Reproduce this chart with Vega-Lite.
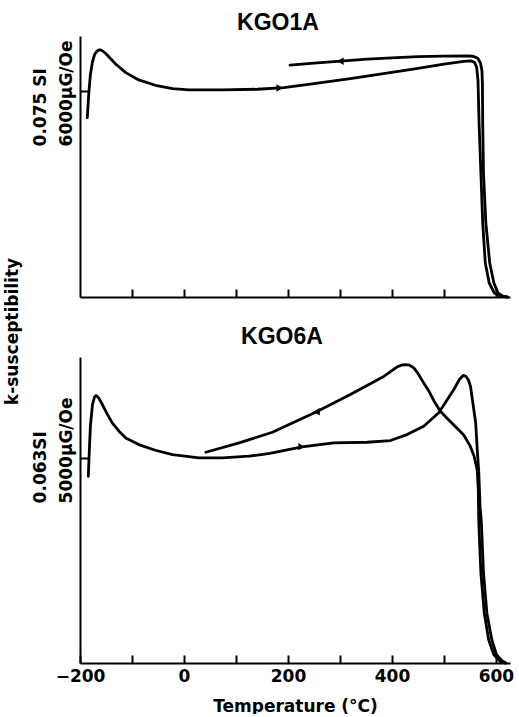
{
  "$schema": "https://vega.github.io/schema/vega-lite/v6.json",
  "background": "white",
  "padding": {"left": 3, "top": 12, "right": 0, "bottom": 0},
  "spacing": 60,
  "bounds": "flush",
  "datasets": {
    "kgo1a": [
      {"branch": "heating", "i": 0, "T": -186, "k": 5222},
      {"branch": "heating", "i": 1, "T": -183, "k": 5950},
      {"branch": "heating", "i": 2, "T": -180, "k": 6480},
      {"branch": "heating", "i": 3, "T": -176, "k": 6850},
      {"branch": "heating", "i": 4, "T": -172, "k": 7060},
      {"branch": "heating", "i": 5, "T": -167, "k": 7167},
      {"branch": "heating", "i": 6, "T": -162, "k": 7200},
      {"branch": "heating", "i": 7, "T": -157, "k": 7170},
      {"branch": "heating", "i": 8, "T": -151, "k": 7098},
      {"branch": "heating", "i": 9, "T": -141, "k": 6940},
      {"branch": "heating", "i": 10, "T": -131, "k": 6777},
      {"branch": "heating", "i": 11, "T": -112, "k": 6534},
      {"branch": "heating", "i": 12, "T": -87, "k": 6321},
      {"branch": "heating", "i": 13, "T": -55, "k": 6165},
      {"branch": "heating", "i": 14, "T": -22, "k": 6068},
      {"branch": "heating", "i": 15, "T": 10, "k": 6030},
      {"branch": "heating", "i": 16, "T": 74, "k": 6030},
      {"branch": "heating", "i": 17, "T": 141, "k": 6050},
      {"branch": "heating", "i": 18, "T": 192, "k": 6097},
      {"branch": "heating", "i": 19, "T": 250, "k": 6210},
      {"branch": "heating", "i": 20, "T": 320, "k": 6360},
      {"branch": "heating", "i": 21, "T": 390, "k": 6520},
      {"branch": "heating", "i": 22, "T": 450, "k": 6660},
      {"branch": "heating", "i": 23, "T": 500, "k": 6780},
      {"branch": "heating", "i": 24, "T": 538, "k": 6860},
      {"branch": "heating", "i": 25, "T": 552, "k": 6875},
      {"branch": "heating", "i": 26, "T": 559, "k": 6830},
      {"branch": "heating", "i": 27, "T": 563, "k": 6680},
      {"branch": "heating", "i": 28, "T": 565.5, "k": 6300},
      {"branch": "heating", "i": 29, "T": 567.5, "k": 5076},
      {"branch": "heating", "i": 30, "T": 571, "k": 3617},
      {"branch": "heating", "i": 31, "T": 574.5, "k": 2159},
      {"branch": "heating", "i": 32, "T": 579.5, "k": 992},
      {"branch": "heating", "i": 33, "T": 587, "k": 408},
      {"branch": "heating", "i": 34, "T": 597, "k": 117},
      {"branch": "heating", "i": 35, "T": 608, "k": 30},
      {"branch": "heating", "i": 36, "T": 622, "k": 0},
      {"branch": "cooling", "i": 0, "T": 622, "k": 0},
      {"branch": "cooling", "i": 1, "T": 612, "k": 30},
      {"branch": "cooling", "i": 2, "T": 604, "k": 117},
      {"branch": "cooling", "i": 3, "T": 596, "k": 408},
      {"branch": "cooling", "i": 4, "T": 588, "k": 992},
      {"branch": "cooling", "i": 5, "T": 580.5, "k": 2159},
      {"branch": "cooling", "i": 6, "T": 576, "k": 3617},
      {"branch": "cooling", "i": 7, "T": 574.5, "k": 5076},
      {"branch": "cooling", "i": 8, "T": 574, "k": 6200},
      {"branch": "cooling", "i": 9, "T": 573, "k": 6600},
      {"branch": "cooling", "i": 10, "T": 570, "k": 6820},
      {"branch": "cooling", "i": 11, "T": 565, "k": 6950},
      {"branch": "cooling", "i": 12, "T": 556, "k": 7010},
      {"branch": "cooling", "i": 13, "T": 545, "k": 7020},
      {"branch": "cooling", "i": 14, "T": 500, "k": 7015},
      {"branch": "cooling", "i": 15, "T": 450, "k": 7000},
      {"branch": "cooling", "i": 16, "T": 400, "k": 6965},
      {"branch": "cooling", "i": 17, "T": 352, "k": 6925},
      {"branch": "cooling", "i": 18, "T": 301, "k": 6870},
      {"branch": "cooling", "i": 19, "T": 250, "k": 6810},
      {"branch": "cooling", "i": 20, "T": 204, "k": 6750}
    ],
    "kgo6a": [
      {"branch": "heating", "i": 0, "T": -184, "k": 4553},
      {"branch": "heating", "i": 1, "T": -182, "k": 5200},
      {"branch": "heating", "i": 2, "T": -180, "k": 5772},
      {"branch": "heating", "i": 3, "T": -176, "k": 6300},
      {"branch": "heating", "i": 4, "T": -172, "k": 6490},
      {"branch": "heating", "i": 5, "T": -169, "k": 6520},
      {"branch": "heating", "i": 6, "T": -164, "k": 6460},
      {"branch": "heating", "i": 7, "T": -157, "k": 6301},
      {"branch": "heating", "i": 8, "T": -148, "k": 6080},
      {"branch": "heating", "i": 9, "T": -138, "k": 5854},
      {"branch": "heating", "i": 10, "T": -125, "k": 5650},
      {"branch": "heating", "i": 11, "T": -112, "k": 5488},
      {"branch": "heating", "i": 12, "T": -87, "k": 5325},
      {"branch": "heating", "i": 13, "T": -55, "k": 5187},
      {"branch": "heating", "i": 14, "T": -22, "k": 5081},
      {"branch": "heating", "i": 15, "T": 29, "k": 5000},
      {"branch": "heating", "i": 16, "T": 74, "k": 5000},
      {"branch": "heating", "i": 17, "T": 125, "k": 5041},
      {"branch": "heating", "i": 18, "T": 165, "k": 5110},
      {"branch": "heating", "i": 19, "T": 227, "k": 5268},
      {"branch": "heating", "i": 20, "T": 288, "k": 5366},
      {"branch": "heating", "i": 21, "T": 352, "k": 5382},
      {"branch": "heating", "i": 22, "T": 397, "k": 5423},
      {"branch": "heating", "i": 23, "T": 429, "k": 5568},
      {"branch": "heating", "i": 24, "T": 461, "k": 5772},
      {"branch": "heating", "i": 25, "T": 490, "k": 6100},
      {"branch": "heating", "i": 26, "T": 519, "k": 6667},
      {"branch": "heating", "i": 27, "T": 530, "k": 6920},
      {"branch": "heating", "i": 28, "T": 537, "k": 7010},
      {"branch": "heating", "i": 29, "T": 542, "k": 6990},
      {"branch": "heating", "i": 30, "T": 547, "k": 6900},
      {"branch": "heating", "i": 31, "T": 551, "k": 6748},
      {"branch": "heating", "i": 32, "T": 556, "k": 6300},
      {"branch": "heating", "i": 33, "T": 561, "k": 5854},
      {"branch": "heating", "i": 34, "T": 564, "k": 5200},
      {"branch": "heating", "i": 35, "T": 567, "k": 4634},
      {"branch": "heating", "i": 36, "T": 569.5, "k": 3800},
      {"branch": "heating", "i": 37, "T": 572, "k": 3415},
      {"branch": "heating", "i": 38, "T": 576, "k": 2195},
      {"branch": "heating", "i": 39, "T": 582.5, "k": 1220},
      {"branch": "heating", "i": 40, "T": 592, "k": 568},
      {"branch": "heating", "i": 41, "T": 601, "k": 202},
      {"branch": "heating", "i": 42, "T": 613, "k": 40},
      {"branch": "heating", "i": 43, "T": 619, "k": 0},
      {"branch": "cooling", "i": 0, "T": 617, "k": 0},
      {"branch": "cooling", "i": 1, "T": 608, "k": 40},
      {"branch": "cooling", "i": 2, "T": 596, "k": 202},
      {"branch": "cooling", "i": 3, "T": 586, "k": 568},
      {"branch": "cooling", "i": 4, "T": 577.5, "k": 1220},
      {"branch": "cooling", "i": 5, "T": 571, "k": 2195},
      {"branch": "cooling", "i": 6, "T": 567, "k": 3415},
      {"branch": "cooling", "i": 7, "T": 566, "k": 4227},
      {"branch": "cooling", "i": 8, "T": 564, "k": 4700},
      {"branch": "cooling", "i": 9, "T": 558, "k": 5041},
      {"branch": "cooling", "i": 10, "T": 550, "k": 5300},
      {"branch": "cooling", "i": 11, "T": 538, "k": 5560},
      {"branch": "cooling", "i": 12, "T": 519, "k": 5800},
      {"branch": "cooling", "i": 13, "T": 505, "k": 5980},
      {"branch": "cooling", "i": 14, "T": 493, "k": 6139},
      {"branch": "cooling", "i": 15, "T": 481, "k": 6382},
      {"branch": "cooling", "i": 16, "T": 470, "k": 6650},
      {"branch": "cooling", "i": 17, "T": 461, "k": 6829},
      {"branch": "cooling", "i": 18, "T": 450, "k": 7060},
      {"branch": "cooling", "i": 19, "T": 442, "k": 7195},
      {"branch": "cooling", "i": 20, "T": 434, "k": 7260},
      {"branch": "cooling", "i": 21, "T": 426, "k": 7276},
      {"branch": "cooling", "i": 22, "T": 418, "k": 7260},
      {"branch": "cooling", "i": 23, "T": 410, "k": 7220},
      {"branch": "cooling", "i": 24, "T": 385, "k": 6992},
      {"branch": "cooling", "i": 25, "T": 320, "k": 6545},
      {"branch": "cooling", "i": 26, "T": 253, "k": 6114},
      {"branch": "cooling", "i": 27, "T": 170, "k": 5626},
      {"branch": "cooling", "i": 28, "T": 106, "k": 5366},
      {"branch": "cooling", "i": 29, "T": 42, "k": 5138}
    ],
    "arrows1": [
      {"T": 184, "k": 6085, "dir": "right"},
      {"T": 301, "k": 6865, "dir": "left"}
    ],
    "arrows6": [
      {"T": 226, "k": 5275, "dir": "right"},
      {"T": 255, "k": 6125, "dir": "left"}
    ]
  },
  "vconcat": [
    {
      "title": {"text": "KGO1A", "anchor": "middle", "frame": "group", "dx": -17, "offset": -17, "baseline": "alphabetic", "fontSize": 23, "font": "Liberation Sans", "fontWeight": "bold", "color": "black"},
      "width": 430,
      "height": 261,
      "layer": [
        {
          "data": {"name": "kgo1a"},
          "mark": {"type": "line", "color": "black", "strokeWidth": 2.8, "strokeJoin": "round", "strokeCap": "round"},
          "encoding": {
            "x": {"field": "T", "type": "quantitative", "scale": {"domain": [-200, 627], "nice": false},
              "axis": {"values": [-100, 0, 100, 200, 300, 400, 500, 600], "labels": false, "tickSize": -8, "title": null}},
            "y": {"field": "k", "type": "quantitative", "scale": {"domain": [0, 7600], "nice": false},
              "axis": {"values": [6000], "tickSize": -8, "labelExpr": "['0.075 SI', '6000μG/Oe']", "labelAngle": 270, "labelAlign": "left", "labelBaseline": "bottom", "labelOffset": 55, "labelPadding": 39, "labelLineHeight": 26, "labelFontSize": 17, "labelFont": "DejaVu Sans", "labelFontWeight": "bold", "labelFlush": false, "labelOverlap": false,
                "title": "k-susceptibility", "titleAngle": 270, "titleX": -63, "titleY": 295, "titleAlign": "center", "titleBaseline": "alphabetic", "titleFontSize": 17, "titleFont": "DejaVu Sans", "titleFontWeight": "bold"}},
            "detail": {"field": "branch"},
            "order": {"field": "i", "type": "quantitative"}
          }
        },
        {
          "data": {"name": "arrows1"},
          "mark": {"type": "point", "filled": true, "color": "black", "size": 55, "opacity": 1},
          "encoding": {
            "x": {"field": "T", "type": "quantitative"},
            "y": {"field": "k", "type": "quantitative"},
            "shape": {"field": "dir", "type": "nominal", "scale": {"domain": ["right", "left", "up", "down"], "range": ["triangle-right", "triangle-left", "triangle-up", "triangle-down"]}, "legend": null}
          }
        }
      ]
    },
    {
      "title": {"text": "KGO6A", "anchor": "middle", "frame": "group", "dx": -13, "offset": -10, "baseline": "alphabetic", "fontSize": 23, "font": "Liberation Sans", "fontWeight": "bold", "color": "black"},
      "width": 430,
      "height": 306,
      "layer": [
        {
          "data": {"name": "kgo6a"},
          "mark": {"type": "line", "color": "black", "strokeWidth": 2.8, "strokeJoin": "round", "strokeCap": "round"},
          "encoding": {
            "x": {"field": "T", "type": "quantitative", "scale": {"domain": [-200, 627], "nice": false},
              "axis": {"values": [-200, -100, 0, 100, 200, 300, 400, 500, 600], "labelExpr": "datum.value % 200 === 0 ? datum.label : ''", "tickSize": -8, "labelPadding": 13, "labelFontSize": 17, "labelFont": "DejaVu Sans", "labelFontWeight": "bold", "labelFlush": false, "labelOverlap": false,
                "title": "Temperature (°C)", "titleFontSize": 17, "titleFont": "DejaVu Sans", "titleFontWeight": "bold", "titlePadding": 14}},
            "y": {"field": "k", "type": "quantitative", "scale": {"domain": [0, 7460], "nice": false},
              "axis": {"values": [5000], "tickSize": -8, "labelExpr": "['0.063SI', '5000μG/Oe']", "labelAngle": 270, "labelAlign": "left", "labelBaseline": "bottom", "labelOffset": 45, "labelPadding": 39, "labelLineHeight": 26, "labelFontSize": 17, "labelFont": "DejaVu Sans", "labelFontWeight": "bold", "labelFlush": false, "labelOverlap": false, "title": null}},
            "detail": {"field": "branch"},
            "order": {"field": "i", "type": "quantitative"}
          }
        },
        {
          "data": {"name": "arrows6"},
          "mark": {"type": "point", "filled": true, "color": "black", "size": 55, "opacity": 1},
          "encoding": {
            "x": {"field": "T", "type": "quantitative"},
            "y": {"field": "k", "type": "quantitative"},
            "shape": {"field": "dir", "type": "nominal", "scale": {"domain": ["right", "left", "up", "down"], "range": ["triangle-right", "triangle-left", "triangle-up", "triangle-down"]}, "legend": null}
          }
        }
      ]
    }
  ],
  "config": {
    "view": {"stroke": null},
    "axis": {"domainColor": "black", "tickColor": "black", "labelColor": "black", "titleColor": "black", "grid": false, "domainWidth": 2, "tickWidth": 2}
  }
}
